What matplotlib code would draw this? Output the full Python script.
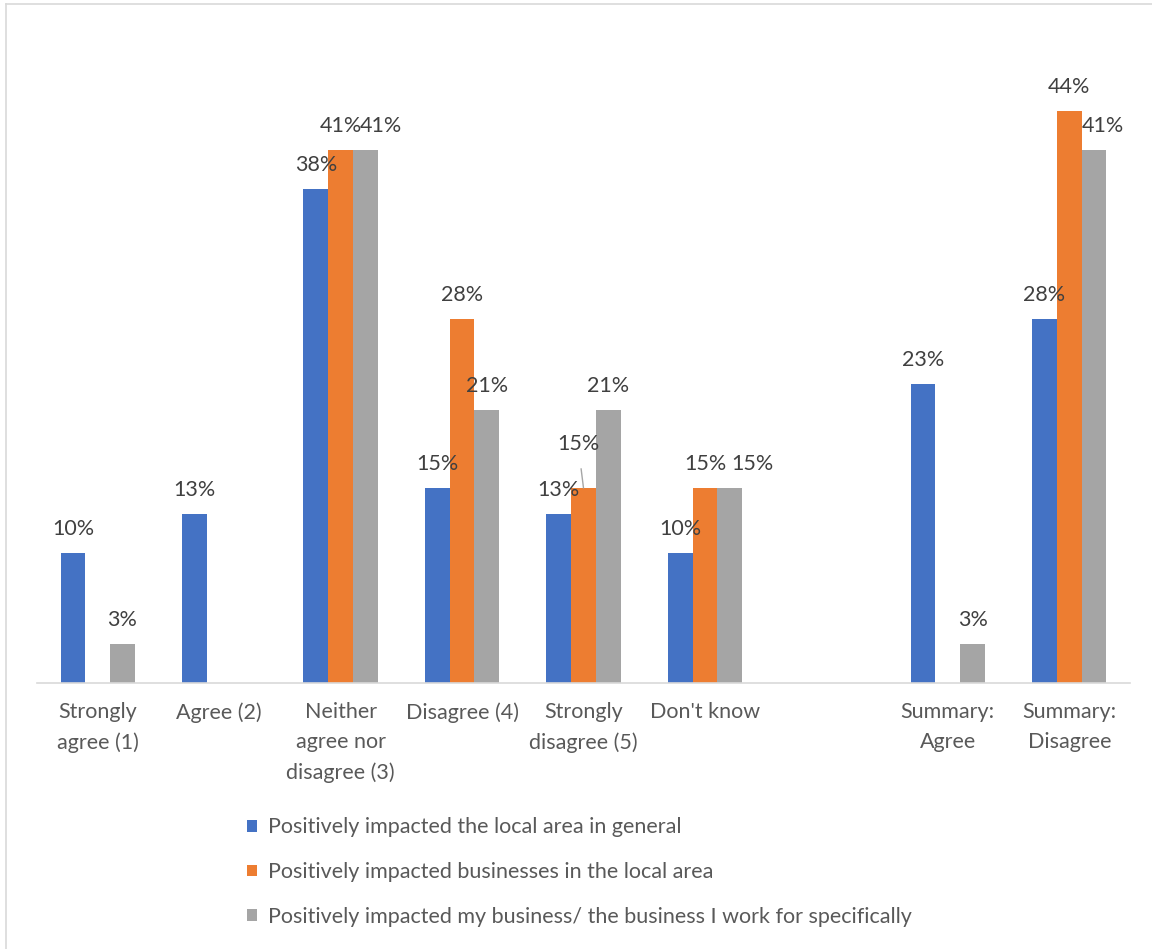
import numpy as np
import matplotlib.pyplot as plt
from matplotlib.lines import Line2D

plt.rcParams['font.family'] = ['Lato', 'DejaVu Sans']

# Data
categories = ["Strongly\nagree (1)", "Agree (2)", "Neither\nagree nor\ndisagree (3)",
              "Disagree (4)", "Strongly\ndisagree (5)", "Don't know", "",
              "Summary:\nAgree", "Summary:\nDisagree"]
series_names = ["Positively impacted the local area in general",
                "Positively impacted businesses in the local area",
                "Positively impacted my business/ the business I work for specifically"]
local_area = [10, 13, 38, 15, 13, 10, np.nan, 23, 28]
local_business = [np.nan, np.nan, 41, 28, 15, 15, np.nan, np.nan, 44]
my_business = [3, np.nan, 41, 21, 21, 15, np.nan, 3, 41]
colors = ["#4472C4", "#ED7D31", "#A5A5A5"]

fs = 15.5

# labels nudged sideways in the original (series, category) -> x offset in points
nudge = {(2, 2): 11.5, (2, 5): 16.5, (2, 8): 6}

fig = plt.figure(figsize=(11.52, 9.49), dpi=100)
ax = fig.add_axes([37 / 1152, 1 - 683 / 949, (1130 - 37) / 1152, 650 / 949])

x = np.arange(len(categories))
bw = 0.204
all_series = [local_area, local_business, my_business]
for i, (vals, col, name) in enumerate(zip(all_series, colors, series_names)):
    pos = x + (i - 1) * bw
    ax.bar(pos, vals, width=bw, color=col, label=name)
    for j, (p, v) in enumerate(zip(pos, vals)):
        if np.isnan(v):
            continue
        if i == 1 and j == 4:
            # label pulled away with a leader line
            ax.annotate(f"{v:.0f}%", xy=(p, v), xytext=(-4, 32), textcoords="offset points",
                        ha="center", va="center", fontsize=fs, color="#404040",
                        arrowprops=dict(arrowstyle="-", color="#A6A6A6", lw=1,
                                        shrinkA=9, shrinkB=0))
        else:
            ax.annotate(f"{v:.0f}%", xy=(p, v), xytext=(nudge.get((i, j), 0), 17),
                        textcoords="offset points",
                        ha="center", va="center", fontsize=fs, color="#404040")

ax.set_xlim(-0.5, len(categories) - 0.5)
ax.set_ylim(0, 50)
ax.set_xticks(x)
ax.set_xticklabels(categories, fontsize=fs, color="#595959", linespacing=1.6)
ax.tick_params(axis="x", length=0, pad=14)
ax.set_yticks([])
for s in ["top", "right", "left"]:
    ax.spines[s].set_visible(False)
ax.spines["bottom"].set_color("#D9D9D9")
ax.spines["bottom"].set_linewidth(1.2)

fig.legend(loc="upper left", bbox_to_anchor=(228 / 1152, 1 - 798 / 949), frameon=False,
           fontsize=fs, labelcolor="#595959", handlelength=0.47, handleheight=0.47,
           handletextpad=0.5, labelspacing=1.15)

# outer chart border (top and left edges visible)
fig.add_artist(Line2D([6 / 1152, 6 / 1152], [0, 1 - 4 / 949], transform=fig.transFigure,
                      color="#D9D9D9", lw=1.2))
fig.add_artist(Line2D([6 / 1152, 1], [1 - 4 / 949, 1 - 4 / 949], transform=fig.transFigure,
                      color="#D9D9D9", lw=1.2))

fig.savefig("out.png", dpi=100)
